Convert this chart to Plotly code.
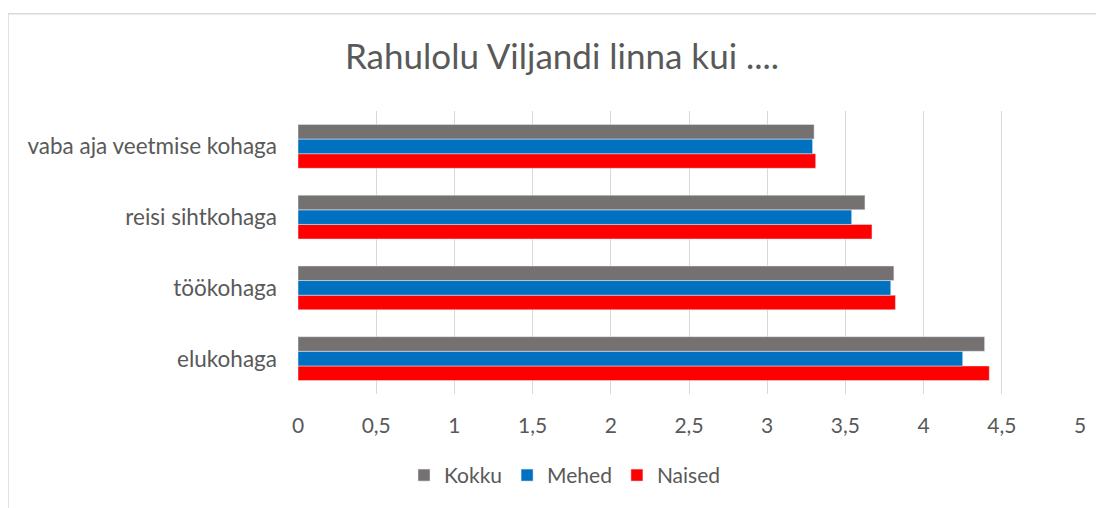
import plotly.graph_objects as go

categories = ["elukohaga", "töökohaga", "reisi sihtkohaga", "vaba aja veetmise kohaga"]
kokku = [4.39, 3.81, 3.625, 3.30]
mehed = [4.25, 3.79, 3.54, 3.29]
naised = [4.42, 3.82, 3.67, 3.31]
x_ticks = [0, 0.5, 1, 1.5, 2, 2.5, 3, 3.5, 4, 4.5, 5]

# page body has an 8px margin; figure coordinates = reference pixels - 8
OFF = 8
W, H = 1104 - OFF, 508 - OFF
L, R, T, B = 298 - OFF, 24, 111 - OFF, 508 - 396
pw, ph = W - L - R, H - T - B

def px(x):
    return (x - OFF - L) / pw

def py(y):
    return (H - B - (y - OFF)) / ph

fig = go.Figure()
fig.add_trace(go.Bar(y=categories, x=naised, name="Naised", orientation="h", marker_color="#FF0000"))
fig.add_trace(go.Bar(y=categories, x=mehed, name="Mehed", orientation="h", marker_color="#0070C0"))
fig.add_trace(go.Bar(y=categories, x=kokku, name="Kokku", orientation="h", marker_color="#767171"))

font_family = "Lato, 'Open Sans', sans-serif"
fig.update_layout(
    width=W, height=H,
    margin=dict(l=L, r=R, t=T, b=B),
    paper_bgcolor="white", plot_bgcolor="white",
    separators=", ",
    barmode="group", bargap=0.38, bargroupgap=0,
    font=dict(family=font_family, color="#595959", size=22),
    title=dict(text="Rahulolu Viljandi linna kui ....", x=(562 - OFF) / W, xref="container", xanchor="center",
               y=1 - (57 - OFF) / H, yref="container", yanchor="middle",
               font=dict(size=35, color="#595959", family=font_family)),
    xaxis=dict(range=[0, 5], tickvals=x_ticks, showgrid=True, gridcolor="#D9D9D9", gridwidth=1,
               zeroline=False, showline=False, ticks="", ticklabelstandoff=17,
               tickfont=dict(size=21, color="#595959")),
    yaxis=dict(showgrid=False, zeroline=False, showline=False, ticks="", ticklabelstandoff=20,
               tickfont=dict(size=22.5, color="#595959")),
    legend=dict(orientation="h", x=px(565), xanchor="center", y=py(478), yanchor="middle",
                traceorder="reversed", font=dict(size=21, color="#595959"),
                itemwidth=30, tracegroupgap=0),
    showlegend=True,
    shapes=[dict(type="rect", xref="paper", yref="paper",
                 x0=px(8), x1=px(1120), y0=py(530), y1=py(13),
                 line=dict(color="#D9D9D9", width=1.5), fillcolor="rgba(0,0,0,0)", layer="below")],
)

fig.write_html("out.html")
